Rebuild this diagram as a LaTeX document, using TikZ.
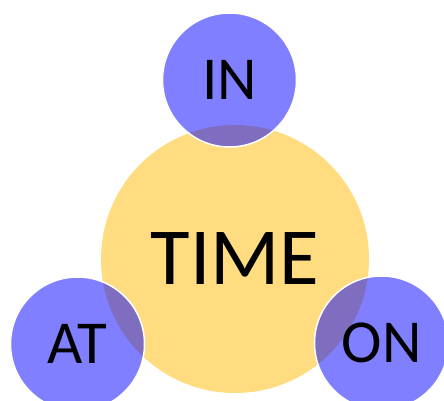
\documentclass[tikz,border=0pt]{standalone}
\usepackage{fontspec}
\setmainfont{Carlito}
\definecolor{timeyellow}{HTML}{FFDC80}
\begin{document}
\begin{tikzpicture}[x=1pt,y=-1pt,
  bigcirc/.style={circle,fill=timeyellow,minimum size=268pt,inner sep=0pt,
     font=\fontsize{81}{81}\selectfont},
  smallcirc/.style={circle,fill=blue,fill opacity=0.5,text opacity=1,draw=white,
     line width=1.5pt,minimum size=134pt,inner sep=0pt,
     font=\fontsize{61}{61}\selectfont}]
\useasboundingbox (0,0) rectangle (444,401);
\clip (0,0) rectangle (444,401);
\node[bigcirc] (time) at (235,259) {TIME};
\node[smallcirc] (in) at (229.5,80) {IN};
\node[smallcirc] (at) at (77.5,344) {AT};
\node[smallcirc] (on) at (381.5,343) {ON};
\end{tikzpicture}
\end{document}
